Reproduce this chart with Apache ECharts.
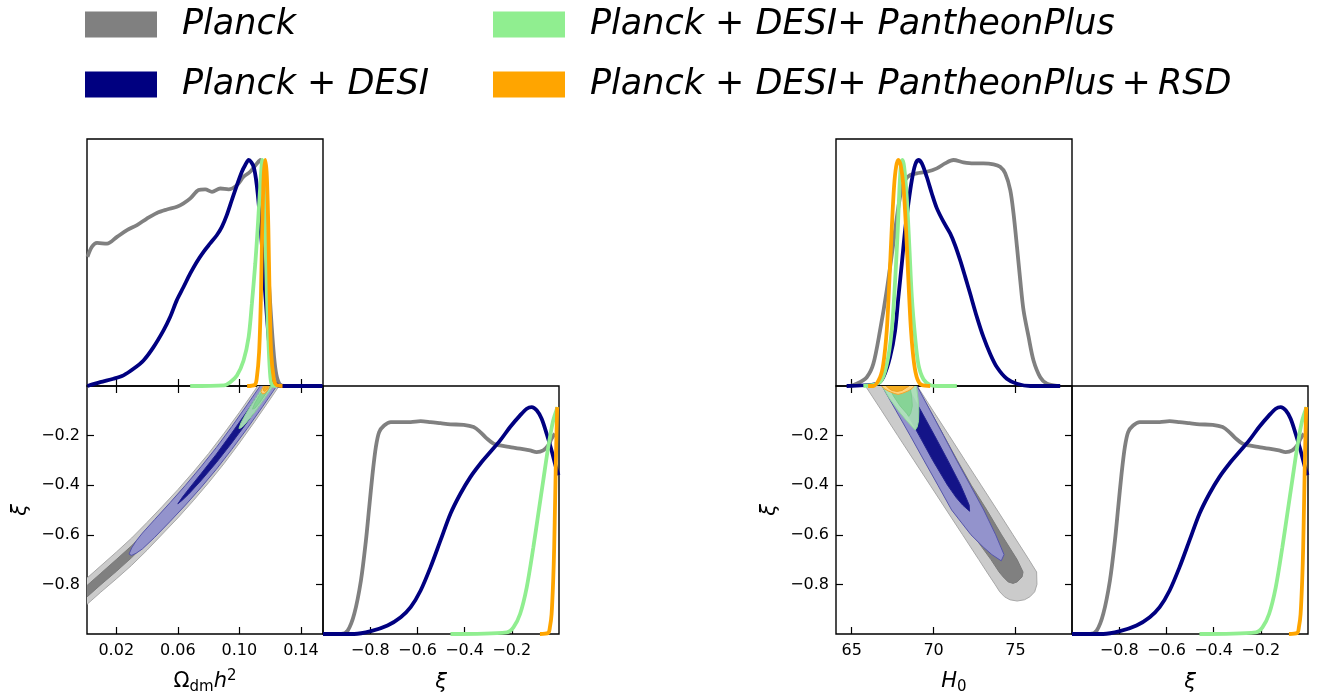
<!DOCTYPE html>
<html>
<head>
<meta charset="utf-8">
<script src="https://cdn.jsdelivr.net/npm/echarts@6/dist/echarts.min.js"></script>
<style>html,body{margin:0;padding:0;background:#fff}#c{width:1325px;height:698px}</style>
</head>
<body>
<div id="c"></div>
<script>
// ---------------- data ----------------
const seriesNames = ['Planck', 'Planck + DESI', 'Planck + DESI + PantheonPlus', 'Planck + DESI + PantheonPlus + RSD'];
const legendLabels = ['Planck', 'Planck + DESI', 'Planck + DESI+ PantheonPlus', 'Planck + DESI+ PantheonPlus\u2009+\u2009RSD'];

const omegaRange = [0.001, 0.1543];
const h0Range = [64.04, 78.45];
const xiRange = [-1, 0];
const pdfRange = [0, 1.093];

const omegaTicks = [0.02, 0.06, 0.10, 0.14];
const h0Ticks = [65, 70, 75];
const xiTicks = [-0.8, -0.6, -0.4, -0.2];

// 1D marginals: Omega_dm h^2
const omegaPlanck = [[0.0013,0.571],[0.0042,0.616],[0.0075,0.633],[0.0140,0.630],[0.0205,0.660],[0.0270,0.690],[0.0335,0.712],[0.0399,0.741],[0.0464,0.766],[0.0529,0.781],[0.0594,0.793],[0.0637,0.808],[0.0681,0.830],[0.0735,0.867],[0.0778,0.870],[0.0822,0.859],[0.0876,0.874],[0.0930,0.870],[0.0984,0.889],[0.1027,0.926],[0.1070,0.948],[0.1114,0.985],[0.1136,1.0],[0.1150,0.96],[0.1165,0.80],[0.1180,0.60],[0.1195,0.42],[0.1210,0.26],[0.1225,0.13],[0.1240,0.05],[0.1260,0.01],[0.1290,0.0],[0.1350,0.0]];
const omegaDesi = [[0.0013,0.0],[0.0096,0.017],[0.0182,0.032],[0.0247,0.047],[0.0312,0.076],[0.0377,0.113],[0.0442,0.172],[0.0507,0.246],[0.0550,0.305],[0.0593,0.379],[0.0637,0.438],[0.0680,0.497],[0.0723,0.549],[0.0767,0.594],[0.0810,0.631],[0.0853,0.667],[0.0886,0.704],[0.0918,0.756],[0.0951,0.823],[0.0984,0.889],[0.1016,0.948],[0.1038,0.978],[0.1060,1.0],[0.1092,0.971],[0.1114,0.882],[0.1136,0.719],[0.1157,0.512],[0.1179,0.305],[0.1201,0.128],[0.1222,0.025],[0.1244,0.005],[0.1266,0.0],[0.1540,0.0]];
const omegaPP = [[0.0680,0.0],[0.0900,0.003],[0.0940,0.017],[0.0984,0.047],[0.1027,0.113],[0.1060,0.217],[0.1081,0.364],[0.1103,0.542],[0.1118,0.690],[0.1131,0.837],[0.1142,0.956],[0.1148,1.0],[0.1157,0.911],[0.1168,0.690],[0.1179,0.394],[0.1190,0.172],[0.1201,0.039],[0.1212,0.005],[0.1240,0.0]];
const omegaRSD = [[0.1050,0.0],[0.1100,0.005],[0.1112,0.03],[0.1128,0.15],[0.1140,0.40],[0.1148,0.70],[0.1158,0.93],[0.1168,1.0],[0.1178,0.93],[0.1188,0.70],[0.1196,0.40],[0.1206,0.15],[0.1224,0.03],[0.1240,0.005],[0.1280,0.0]];

// 1D marginals: H0
const h0Planck = [[64.9,0.0],[65.31,0.010],[65.92,0.039],[66.32,0.098],[66.73,0.246],[67.14,0.424],[67.54,0.630],[67.85,0.793],[68.06,0.874],[68.26,0.911],[68.56,0.933],[68.97,0.941],[69.58,0.948],[70.20,0.963],[70.70,0.985],[71.21,1.0],[71.82,0.990],[72.43,0.985],[73.04,0.985],[73.66,0.981],[74.06,0.970],[74.37,0.941],[74.68,0.867],[74.88,0.763],[75.09,0.616],[75.29,0.468],[75.49,0.335],[75.80,0.217],[76.10,0.113],[76.51,0.039],[76.92,0.010],[77.53,0.0]];
const h0Desi = [[64.69,0.0],[66.53,0.010],[66.93,0.039],[67.34,0.128],[67.65,0.246],[67.85,0.394],[68.06,0.542],[68.26,0.690],[68.46,0.808],[68.67,0.911],[68.87,0.978],[69.07,1.0],[69.28,0.985],[69.58,0.926],[69.89,0.852],[70.20,0.786],[70.60,0.727],[71.01,0.675],[71.31,0.623],[71.62,0.557],[71.93,0.483],[72.23,0.409],[72.64,0.306],[73.04,0.217],[73.45,0.143],[73.86,0.084],[74.47,0.032],[75.09,0.010],[75.90,0.0],[77.73,0.0]];
const h0PP = [[65.71,0.0],[66.73,0.017],[67.14,0.096],[67.44,0.244],[67.65,0.466],[67.81,0.690],[67.91,0.867],[68.01,0.985],[68.09,1.0],[68.20,0.970],[68.36,0.837],[68.52,0.616],[68.67,0.394],[68.87,0.217],[69.07,0.096],[69.38,0.030],[69.79,0.004],[70.20,0.0],[71.42,0.0]];
const h0RSD = [[66.00,0.0],[66.32,0.0],[66.73,0.039],[66.93,0.098],[67.14,0.246],[67.30,0.468],[67.44,0.690],[67.585,0.882],[67.71,0.970],[67.85,1.0],[67.99,0.978],[68.16,0.882],[68.32,0.690],[68.46,0.468],[68.62,0.246],[68.81,0.098],[69.01,0.030],[69.28,0.004],[69.79,0.0]];

// 1D marginals: xi
const xiPlanck = [[-1.0,0.0],[-0.9235,0.0],[-0.8953,0.015],[-0.8674,0.089],[-0.8392,0.236],[-0.8181,0.412],[-0.8041,0.559],[-0.7900,0.706],[-0.7760,0.824],[-0.7621,0.890],[-0.7410,0.919],[-0.7128,0.934],[-0.6706,0.934],[-0.6285,0.934],[-0.5863,0.938],[-0.5442,0.934],[-0.5021,0.929],[-0.4599,0.924],[-0.4038,0.922],[-0.3617,0.912],[-0.3335,0.890],[-0.3053,0.861],[-0.2775,0.839],[-0.2492,0.831],[-0.2071,0.824],[-0.1649,0.817],[-0.1228,0.809],[-0.0946,0.802],[-0.0668,0.809],[-0.0457,0.831],[-0.0314,0.861],[-0.0175,0.883]];
const xiDesi = [[-1.0,0.0],[-0.8674,0.0],[-0.797,0.0125],[-0.7267,0.0375],[-0.6706,0.0742],[-0.6285,0.1183],[-0.5863,0.1918],[-0.5442,0.2947],[-0.5021,0.4123],[-0.4599,0.5299],[-0.4178,0.6181],[-0.3756,0.6916],[-0.3335,0.7504],[-0.2913,0.8018],[-0.2492,0.8533],[-0.2071,0.9121],[-0.1649,0.9635],[-0.1367,0.9929],[-0.1156,1.0],[-0.0946,0.986],[-0.0735,0.9488],[-0.0524,0.8827],[-0.0314,0.8092],[-0.0132,0.7357],[-0.002,0.70]];
const xiPP = [[-0.4599,0.0],[-0.2212,0.0074],[-0.1930,0.0294],[-0.1649,0.0882],[-0.1367,0.2058],[-0.1087,0.3821],[-0.0878,0.5291],[-0.0668,0.6761],[-0.0457,0.8231],[-0.0246,0.9407],[-0.006,1.0]];
const xiRSD = [[-0.0807,0.0],[-0.0457,0.005],[-0.0385,0.030],[-0.0314,0.088],[-0.0246,0.236],[-0.0204,0.383],[-0.0162,0.603],[-0.0119,0.824],[-0.0077,1.0]];

// 2D contours Omega_dm h^2 vs xi: slices [omega, xiLow, xiHigh]
const omXiPlanck95 = [[-0.005,-0.914,-0.808],[0.000,-0.886,-0.780],[0.010,-0.831,-0.725],[0.020,-0.778,-0.670],[0.030,-0.723,-0.613],[0.040,-0.662,-0.550],[0.050,-0.597,-0.485],[0.060,-0.532,-0.418],[0.070,-0.463,-0.347],[0.080,-0.390,-0.272],[0.090,-0.313,-0.191],[0.100,-0.230,-0.106],[0.110,-0.143,-0.017],[0.120,-0.053,0.075],[0.130,0.039,0.169]];
const omXiPlanck68 = [[-0.005,-0.884,-0.838],[0.000,-0.856,-0.810],[0.010,-0.801,-0.755],[0.020,-0.748,-0.700],[0.030,-0.692,-0.644],[0.040,-0.631,-0.581],[0.050,-0.566,-0.516],[0.060,-0.500,-0.450],[0.070,-0.431,-0.379],[0.080,-0.357,-0.305],[0.090,-0.279,-0.225],[0.100,-0.195,-0.141],[0.110,-0.107,-0.053],[0.120,-0.017,0.039],[0.130,0.076,0.132]];
const omXiDesi95 = [[0.0283,-0.678,-0.678],[0.030,-0.683,-0.653],[0.033,-0.674,-0.624],[0.037,-0.657,-0.593],[0.045,-0.610,-0.538],[0.055,-0.546,-0.470],[0.065,-0.480,-0.400],[0.075,-0.410,-0.326],[0.085,-0.336,-0.248],[0.095,-0.256,-0.164],[0.105,-0.172,-0.076],[0.115,-0.084,0.014],[0.125,0.007,0.107],[0.130,0.054,0.154]];
const omXiDesi68 = [[0.0600,-0.475,-0.475],[0.0630,-0.460,-0.448],[0.0670,-0.436,-0.416],[0.0750,-0.382,-0.354],[0.0850,-0.309,-0.275],[0.0950,-0.230,-0.190],[0.1050,-0.146,-0.102],[0.1150,-0.059,-0.011],[0.1250,0.032,0.082]];
const omXiPP95 = [[0.0997,-0.171,-0.171],[0.1010,-0.169,-0.149],[0.1030,-0.158,-0.126],[0.1060,-0.136,-0.094],[0.1100,-0.105,-0.055],[0.1150,-0.062,-0.008],[0.1200,-0.017,0.039],[0.1250,0.029,0.085]];
const omXiPP68 = [[0.1085,-0.093,-0.093],[0.1100,-0.090,-0.070],[0.1130,-0.068,-0.038],[0.1170,-0.032,0.000],[0.1210,0.006,0.036]];
const omXiRSD95 = [[0.1140,-0.022,-0.022],[0.1150,-0.032,-0.008],[0.1165,-0.030,0.010],[0.1180,-0.020,0.010],[0.1192,-0.006,0.010]];
const omXiRSD68 = [[0.1155,-0.018,-0.018],[0.1165,-0.022,0.010],[0.1178,-0.014,0.010],[0.1186,-0.004,0.010]];

// 2D contours H0 vs xi: slices [xi, H0Low, H0High]
const h0XiPlanck95 = [[0.03,65.54,68.70],[0.0,65.84,69.00],[-0.1,66.83,69.97],[-0.2,67.81,70.95],[-0.3,68.80,71.92],[-0.4,69.79,72.90],[-0.5,70.78,73.88],[-0.6,71.77,74.85],[-0.7,72.76,75.82],[-0.75,73.25,76.29],[-0.8,73.75,76.31],[-0.83,74.04,76.17],[-0.85,74.33,75.88],[-0.862,74.66,75.55],[-0.867,75.10,75.10]];
const h0XiPlanck68 = [[0.03,66.80,68.70],[0.0,67.00,68.95],[-0.1,67.85,69.80],[-0.2,68.70,70.62],[-0.3,69.55,71.45],[-0.4,70.40,72.30],[-0.5,71.30,73.25],[-0.6,72.40,74.15],[-0.7,73.50,75.10],[-0.75,74.00,75.46],[-0.77,74.25,75.40],[-0.79,74.55,75.10],[-0.796,74.85,74.85]];
const h0XiDesi95 = [[0.03,66.60,68.75],[0.0,66.85,68.99],[-0.1,67.71,69.80],[-0.2,68.57,70.61],[-0.3,69.41,71.41],[-0.4,70.26,72.24],[-0.5,71.10,73.06],[-0.6,72.28,73.79],[-0.65,73.04,74.11],[-0.68,73.56,74.30],[-0.705,74.13,74.13]];
const h0XiDesi68 = [[0.03,67.255,68.095],[0.0,67.47,68.37],[-0.1,68.29,69.23],[-0.2,69.12,70.06],[-0.3,69.95,70.87],[-0.4,70.85,71.65],[-0.45,71.38,71.98],[-0.48,71.77,72.17],[-0.505,72.20,72.20]];
const h0XiPP95 = [[0.03,66.55,68.78],[0.0,66.86,68.95],[-0.05,67.30,69.05],[-0.1,67.85,69.10],[-0.14,68.35,69.08],[-0.165,68.70,69.00],[-0.177,68.88,68.88]];
const h0XiPP68 = [[0.03,67.10,68.50],[0.0,67.25,68.55],[-0.04,67.55,68.65],[-0.08,67.95,68.70],[-0.11,68.35,68.60],[-0.122,68.48,68.48]];
const h0XiRSD95 = [[0.03,66.65,68.95],[0.0,66.83,68.81],[-0.01,66.97,68.69],[-0.02,67.22,68.44],[-0.03,67.59,68.07],[-0.034,67.83,67.83]];
const h0XiRSD68 = [[0.03,66.95,68.65],[0.0,67.10,68.50],[-0.01,67.28,68.26],[-0.018,67.46,68.07],[-0.022,67.77,67.77]];

// ---------------- styles ----------------
const FONT = 'DejaVu Sans';
const lineColors = ['#808080', '#000080', '#90ee90', '#ffa500'];
const contourStyles = [
  [{fill: '#cbcbcb', stroke: '#a8a8a8'}, {fill: '#808080', stroke: '#7a7a7a'}],
  [{fill: '#9393cc', stroke: '#5555aa'}, {fill: '#141488', stroke: '#22228f'}],
  [{fill: 'rgba(176,228,186,0.92)', stroke: '#8fd99a'}, {fill: '#86d496', stroke: '#7ccd8c'}],
  [{fill: '#ffd27a', stroke: '#f2a62a'}, {fill: '#f5ae22', stroke: '#f0a020'}]
];

// ---------------- helpers ----------------
function bandAlongX(slices) {
  const up = slices.map(s => [s[0], s[2]]);
  const down = slices.slice().reverse().map(s => [s[0], s[1]]);
  return up.concat(down);
}
function bandAlongY(slices) {
  const left = slices.map(s => [s[1], s[0]]);
  const right = slices.slice().reverse().map(s => [s[2], s[0]]);
  return left.concat(right);
}
function contourSeries(nameIdx, level, points, xi, yi) {
  const st = contourStyles[nameIdx][level];
  return {
    type: 'custom', name: seriesNames[nameIdx], xAxisIndex: xi, yAxisIndex: yi,
    clip: true, silent: true, data: points,
    itemStyle: {color: lineColors[nameIdx]},
    renderItem: function (params, api) {
      if (params.dataIndexInside !== 0) return null;
      const pts = [];
      for (let i = 0; i < params.dataInsideLength; i++) {
        pts.push(api.coord([api.value(0, i), api.value(1, i)]));
      }
      return {type: 'polygon', shape: {points: pts}, style: {fill: st.fill, stroke: st.stroke, lineWidth: 1}};
    }
  };
}
function lineSeries(nameIdx, data, xi, yi) {
  const c = lineColors[nameIdx];
  return {
    type: 'line', name: seriesNames[nameIdx], data: data, xAxisIndex: xi, yAxisIndex: yi,
    showSymbol: false, smooth: 0.3, silent: true, z: 3,
    lineStyle: {width: 3.8, color: c}, itemStyle: {color: c}
  };
}
const tickStyle = {show: true, inside: true, length: 7, lineStyle: {color: '#000', width: 1.2}};
function axis(base) {
  return Object.assign({
    type: 'value', splitLine: {show: false},
    axisLine: {show: false, onZero: false}
  }, base);
}
const fmtXi = v => (v < 0 ? '\u2212' : '') + Math.abs(v).toFixed(1);
const labelStyle = {fontFamily: FONT, fontSize: 16, color: '#000'};
const nameStyle = {
  fontFamily: FONT, fontSize: 21, color: '#000', lineHeight: 26,
  rich: {
    a: {fontFamily: FONT, fontSize: 21, lineHeight: 26, color: '#000'},
    i: {fontFamily: FONT, fontSize: 21, lineHeight: 26, fontStyle: 'italic', color: '#000'},
    s: {fontFamily: FONT, fontSize: 15, lineHeight: 16, verticalAlign: 'bottom', color: '#000'},
    p: {fontFamily: FONT, fontSize: 15, lineHeight: 13, verticalAlign: 'top', color: '#000'}
  }
};
const xiNameStyle = {fontFamily: FONT, fontSize: 21, fontStyle: 'italic', color: '#000', lineHeight: 26};

// ---------------- layout ----------------
const grids = [
  {left: 87, top: 139, width: 236, height: 247},
  {left: 87, top: 386, width: 236, height: 248},
  {left: 323, top: 386, width: 236, height: 248},
  {left: 836, top: 139, width: 236, height: 247},
  {left: 836, top: 386, width: 236, height: 248},
  {left: 1072, top: 386, width: 236, height: 248}
].map(g => Object.assign({show: true, borderColor: '#000', borderWidth: 1.4, backgroundColor: 'transparent', containLabel: false}, g));

const xAxes = [
  axis({gridIndex: 0, min: omegaRange[0], max: omegaRange[1], axisTick: Object.assign({customValues: omegaTicks}, tickStyle), axisLabel: {show: false}}),
  axis({gridIndex: 1, min: omegaRange[0], max: omegaRange[1], axisTick: Object.assign({customValues: omegaTicks}, tickStyle),
    axisLabel: Object.assign({show: true, customValues: omegaTicks, margin: 9, formatter: v => v.toFixed(2)}, labelStyle),
    name: '{a|\u03a9}{s|dm}{i|h}{p|2}', nameLocation: 'middle', nameGap: 35, nameTextStyle: nameStyle}),
  axis({gridIndex: 1, position: 'top', min: omegaRange[0], max: omegaRange[1], axisTick: Object.assign({customValues: omegaTicks}, tickStyle), axisLabel: {show: false}}),
  axis({gridIndex: 2, min: xiRange[0], max: xiRange[1], axisTick: Object.assign({customValues: xiTicks}, tickStyle),
    axisLabel: Object.assign({show: true, customValues: xiTicks, margin: 9, formatter: fmtXi}, labelStyle),
    name: '\u03be', nameLocation: 'middle', nameGap: 36, nameTextStyle: xiNameStyle}),
  axis({gridIndex: 3, min: h0Range[0], max: h0Range[1], axisTick: Object.assign({customValues: h0Ticks}, tickStyle), axisLabel: {show: false}}),
  axis({gridIndex: 4, min: h0Range[0], max: h0Range[1], axisTick: Object.assign({customValues: h0Ticks}, tickStyle),
    axisLabel: Object.assign({show: true, customValues: h0Ticks, margin: 9, formatter: v => String(Math.round(v))}, labelStyle),
    name: '{i|H}{s|0}', nameLocation: 'middle', nameGap: 35, nameTextStyle: nameStyle}),
  axis({gridIndex: 4, position: 'top', min: h0Range[0], max: h0Range[1], axisTick: Object.assign({customValues: h0Ticks}, tickStyle), axisLabel: {show: false}}),
  axis({gridIndex: 5, min: xiRange[0], max: xiRange[1], axisTick: Object.assign({customValues: xiTicks}, tickStyle),
    axisLabel: Object.assign({show: true, customValues: xiTicks, margin: 9, formatter: fmtXi}, labelStyle),
    name: '\u03be', nameLocation: 'middle', nameGap: 36, nameTextStyle: xiNameStyle})
];
const yAxes = [
  axis({gridIndex: 0, min: pdfRange[0], max: pdfRange[1], show: false}),
  axis({gridIndex: 1, min: xiRange[0], max: xiRange[1], axisTick: Object.assign({customValues: xiTicks}, tickStyle),
    axisLabel: Object.assign({show: true, customValues: xiTicks, margin: 7, formatter: fmtXi}, labelStyle),
    name: '\u03be', nameLocation: 'middle', nameGap: 53, nameRotate: 90, nameTextStyle: xiNameStyle}),
  axis({gridIndex: 1, position: 'right', min: xiRange[0], max: xiRange[1], axisTick: Object.assign({customValues: xiTicks}, tickStyle), axisLabel: {show: false}}),
  axis({gridIndex: 2, min: pdfRange[0], max: pdfRange[1], show: false}),
  axis({gridIndex: 3, min: pdfRange[0], max: pdfRange[1], show: false}),
  axis({gridIndex: 4, min: xiRange[0], max: xiRange[1], axisTick: Object.assign({customValues: xiTicks}, tickStyle),
    axisLabel: Object.assign({show: true, customValues: xiTicks, margin: 7, formatter: fmtXi}, labelStyle),
    name: '\u03be', nameLocation: 'middle', nameGap: 53, nameRotate: 90, nameTextStyle: xiNameStyle}),
  axis({gridIndex: 4, position: 'right', min: xiRange[0], max: xiRange[1], axisTick: Object.assign({customValues: xiTicks}, tickStyle), axisLabel: {show: false}}),
  axis({gridIndex: 5, min: pdfRange[0], max: pdfRange[1], show: false})
];

// ---------------- series ----------------
const omXiContours = [[omXiPlanck95, omXiPlanck68], [omXiDesi95, omXiDesi68], [omXiPP95, omXiPP68], [omXiRSD95, omXiRSD68]];
const h0XiContours = [[h0XiPlanck95, h0XiPlanck68], [h0XiDesi95, h0XiDesi68], [h0XiPP95, h0XiPP68], [h0XiRSD95, h0XiRSD68]];
const series = [];
omXiContours.forEach((lv, k) => lv.forEach((sl, j) => series.push(contourSeries(k, j, bandAlongX(sl), 1, 1))));
h0XiContours.forEach((lv, k) => lv.forEach((sl, j) => series.push(contourSeries(k, j, bandAlongY(sl), 5, 5))));
[omegaPlanck, omegaDesi, omegaPP, omegaRSD].forEach((d, k) => series.push(lineSeries(k, d, 0, 0)));
[xiPlanck, xiDesi, xiPP, xiRSD].forEach((d, k) => series.push(lineSeries(k, d, 3, 3)));
[h0Planck, h0Desi, h0PP, h0RSD].forEach((d, k) => series.push(lineSeries(k, d, 4, 4)));
[xiPlanck, xiDesi, xiPP, xiRSD].forEach((d, k) => series.push(lineSeries(k, d, 7, 7)));

const legendText = {fontFamily: FONT, fontStyle: 'italic', fontSize: 35, lineHeight: 26, color: '#000', padding: [0, 0, 0, 20]};
const legendFmt = name => legendLabels[seriesNames.indexOf(name)];
const legends = [
  {data: [seriesNames[0], seriesNames[1]], left: 85, top: 7},
  {data: [seriesNames[2], seriesNames[3]], left: 493, top: 7}
].map(l => Object.assign({
  orient: 'vertical', icon: 'rect', itemWidth: 72, itemHeight: 26, itemGap: 25,
  selectedMode: false, padding: 0, formatter: legendFmt, textStyle: legendText
}, l));

const chart = echarts.init(document.getElementById('c'), null, {renderer: 'canvas'});
chart.setOption({
  animation: false,
  backgroundColor: '#fff',
  legend: legends,
  grid: grids,
  xAxis: xAxes,
  yAxis: yAxes,
  series: series
});
</script>
</body>
</html>
